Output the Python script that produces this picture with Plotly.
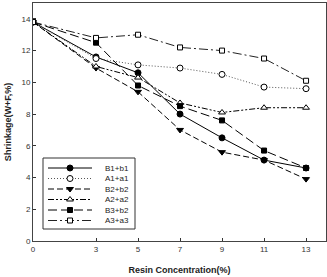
import plotly.graph_objects as go

conc = [0, 3, 5, 7, 9, 11, 13]
names = ["B1+b1", "A1+a1", "B2+b2", "A2+a2", "B3+b2", "A3+a3"]
b1b1 = [13.8, 11.6, 10.6, 8.0, 6.5, 5.1, 4.6]
a1a1 = [13.8, 11.5, 11.1, 10.9, 10.5, 9.7, 9.6]
b2b2 = [13.8, 10.9, 9.4, 7.0, 5.6, 5.1, 3.9]
a2a2 = [13.8, 11.0, 10.3, 8.7, 8.1, 8.4, 8.4]
b3b2 = [13.8, 12.5, 9.8, 8.5, 7.6, 5.7, 4.6]
a3a3 = [13.8, 12.8, 13.0, 12.2, 12.0, 11.5, 10.1]
xticks = [0, 3, 5, 7, 9, 11, 13]
yticks = [0, 2, 4, 6, 8, 10, 12, 14]

series = [b1b1, a1a1, b2b2, a2a2, b3b2, a3a3]
dashes = ["solid", "1px,2px", "6px,3px", "6px,2px,2px,2px,2px,2px", "9px,4px", "9px,3px,2px,3px"]
lcolors = ["black", "#555", "black", "black", "black", "#222"]
symbols = ["circle", "circle", "triangle-down", "triangle-up", "square", "square"]
fills = ["black", "white", "black", "white", "black", "white"]
sizes = [6, 6, 6, 6, 5, 5]

fig = go.Figure()
for name, ys, d, lc, s, f, sz in zip(names, series, dashes, lcolors, symbols, fills, sizes):
    fig.add_trace(go.Scatter(
        x=conc, y=ys, mode="lines+markers", name=name, showlegend=False,
        line=dict(color=lc, width=1, dash=d),
        marker=dict(symbol=s, size=sz, color=f, line=dict(color="black", width=1)),
    ))

# custom legend drawn on an overlay axis in pixel-like units
L, R, T, B = 33, 326, 3, 241
row_y = [168, 178.5, 189, 199.5, 210, 220.5]
for name, ry, d, lc, s, f, sz in zip(names, row_y, dashes, lcolors, symbols, fills, sizes):
    fig.add_trace(go.Scatter(
        x=[48, 92], y=[ry, ry], mode="lines", xaxis="x2", yaxis="y2", showlegend=False,
        line=dict(color=lc, width=1, dash=d), hoverinfo="skip"))
    fig.add_trace(go.Scatter(
        x=[70], y=[ry], mode="markers", xaxis="x2", yaxis="y2", showlegend=False,
        marker=dict(symbol=s, size=sz, color=f, line=dict(color="black", width=1)),
        hoverinfo="skip"))
    fig.add_annotation(x=103, y=ry, xref="x2", yref="y2", text=name, showarrow=False,
                       xanchor="left", yanchor="middle",
                       font=dict(family="Liberation Sans, Arial", size=8, color="#222"))

fig.add_shape(type="rect", xref="x2", yref="y2", x0=43, x1=135, y0=158, y1=229,
              line=dict(color="#333", width=1), fillcolor="white", layer="below")

font = dict(family="Liberation Sans, Arial", size=8, color="#333")
fig.update_layout(
    width=327, height=277, margin=dict(l=L, r=327 - R, t=T, b=277 - B),
    paper_bgcolor="white", plot_bgcolor="white", showlegend=False,
    font=font,
    xaxis=dict(range=[0, 13.95], tickvals=xticks, ticks="inside", ticklen=3,
               tickcolor="#333", showline=True, linecolor="#444", linewidth=1,
               mirror=True, showgrid=False, zeroline=False, tickfont=font,
               title=dict(text="<b>Resin Concentration(%)</b>", standoff=14,
                          font=dict(family="Liberation Sans, Arial", size=9, color="#222"))),
    yaxis=dict(range=[0, 15], tickvals=yticks, ticks="inside", ticklen=3,
               tickcolor="#333", showline=True, linecolor="#444", linewidth=1,
               mirror=True, showgrid=False, zeroline=False, tickfont=font,
               title=dict(text="<b>Shrinkage(W+F,%)</b>", standoff=8,
                          font=dict(family="Liberation Sans, Arial", size=9, color="#222"))),
    xaxis2=dict(range=[L, R], overlaying="x", visible=False, domain=[0, 1]),
    yaxis2=dict(range=[B, T], overlaying="y", visible=False),
)
fig.write_html("out.html")
